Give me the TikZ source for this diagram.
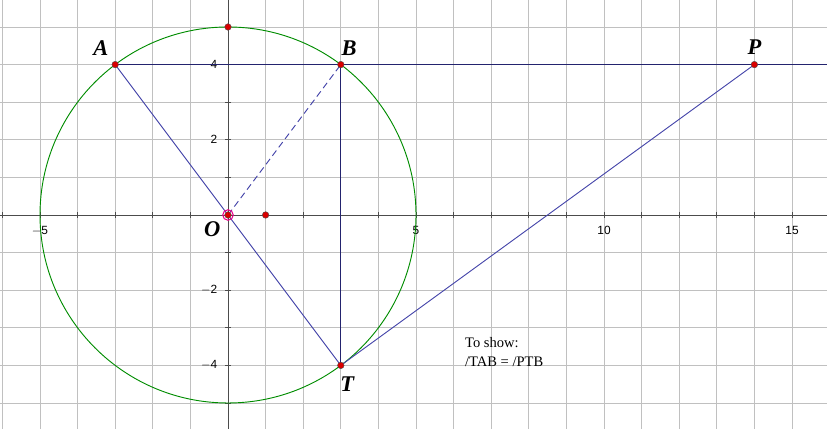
\documentclass[tikz,border=0pt]{standalone}
\usepackage{fontspec}
\setmainfont{Liberation Serif}
\setsansfont{Liberation Sans}
\begin{document}
\begin{tikzpicture}[x=1cm,y=1cm,
  dot/.style={circle,fill=red!85!black,draw=black!70,line width=0.3pt,inner sep=0pt,minimum size=5pt},
  ptlabel/.style={font=\fontsize{17}{17}\selectfont\bfseries\itshape},
  ticklab/.style={font=\sffamily\fontsize{9}{9}\selectfont}]
  \definecolor{gridgray}{RGB}{192,192,192}
  \definecolor{circgreen}{RGB}{0,140,0}
  \definecolor{segblue}{RGB}{70,70,170}
  \definecolor{darknavy}{RGB}{35,35,110}

  \useasboundingbox (-6.064,-5.691) rectangle (15.931,5.718);

  % grid and axes
  \foreach \x in {-6,...,15}
    {\draw[gridgray,line width=0.6pt] (\x,-5.691) -- (\x,5.718);}
  \foreach \y in {-5,...,5}
    {\draw[gridgray,line width=0.6pt] (-6.064,\y) -- (15.931,\y);}
  \draw[black!70,line width=0.6pt] (-6.064,0) -- (15.931,0);
  \draw[black!70,line width=0.6pt] (0,-5.691) -- (0,5.718);
  \foreach \x in {-6,...,15}
    {\draw[black!70,line width=0.6pt] (\x,-0.08) -- (\x,0.08);}
  \foreach \y in {-5,...,5}
    {\draw[black!70,line width=0.6pt] (-0.08,\y) -- (0.08,\y);}
  \foreach \x/\lab in {-5/$-$5,5/5,10/10,15/15}
    {\node[ticklab] at (\x,-0.42) {\lab};}
  \foreach \y/\lab in {4/4,2/2,-2/$-$2,-4/$-$4}
    {\node[ticklab,anchor=east] at (-0.16,\y) {\lab};}

  % circle
  \draw[circgreen,line width=0.7pt] (0,0) circle (5);

  % points
  \coordinate (O) at (0,0);
  \coordinate (A) at (-3,4);
  \coordinate (B) at (3,4);
  \coordinate (P) at (14,4);
  \coordinate (T) at (3,-4);
  \coordinate (top) at (0,5);
  \coordinate (unit) at (1,0);
  \coordinate (edge) at (15.931,4);

  % segments
  \draw[darknavy,line width=0.8pt] (A) -- (edge);
  \draw[segblue,line width=0.7pt] (A) -- (T);
  \draw[segblue,line width=0.7pt,dashed,dash pattern=on 5pt off 3pt] (O) -- (B);
  \draw[darknavy,line width=0.9pt] (B) -- (T);
  \draw[segblue,line width=0.7pt] (T) -- (P);

  % dots
  \foreach \p in {O,A,B,P,T,top,unit}
    {\node[dot] at (\p) {};}
  \draw[magenta,line width=0.8pt] (O) circle (0.14);

  % labels
  \node[ptlabel] (labA) at (-3.38,4.44) {A};
  \node[ptlabel] (labB) at (3.22,4.44) {B};
  \node[ptlabel] (labP) at (14.0,4.46) {P};
  \node[ptlabel] (labO) at (-0.42,-0.38) {O};
  \node[ptlabel] (labT) at (3.17,-4.5) {T};

  \node[anchor=north west,align=left,font=\fontsize{11}{14}\selectfont,inner sep=0pt] (claim) at (6.3,-3.25)
    {To show:\\/TAB = /PTB};
\end{tikzpicture}
\end{document}
